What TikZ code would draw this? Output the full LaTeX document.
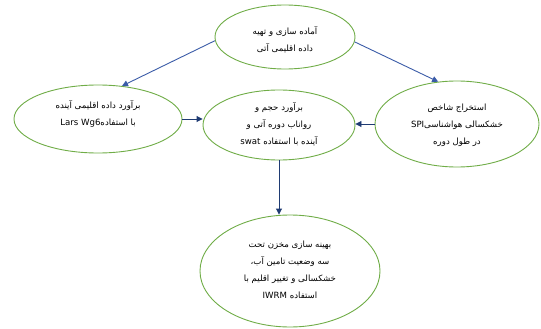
\documentclass[tikz,border=0pt]{standalone}
\usepackage{fontspec}
\newfontfamily\arabicfont[Script=Arabic]{DejaVu Sans}
\TeXXeTstate=1
\newcommand{\rl}[1]{\beginR #1\endR}
\usetikzlibrary{shapes.geometric,arrows.meta}
\definecolor{ellgreen}{HTML}{70AD47}
\definecolor{arrblue}{HTML}{3B5CA8}
\definecolor{arrnavy}{HTML}{1F3B73}
\begin{document}
\begin{tikzpicture}[x=1pt,y=-1pt,
 ell/.style={ellipse,draw=ellgreen,line width=0.9pt,inner sep=0pt,fill=white},
 lbl/.style={font=\arabicfont\fontsize{8.6}{17}\selectfont,align=center,text=black,inner sep=0pt},
 arrd/.style={draw=arrblue,line width=0.9pt,-{Triangle[length=6pt,width=6pt]}},
 arrs/.style={draw=arrnavy,line width=0.9pt,-{Triangle[length=6pt,width=6pt]}}]
\useasboundingbox (0,0) rectangle (541,329);
\fill[white] (0,0) rectangle (541,329);
\node[ell,minimum width=140pt,minimum height=64pt] (e1) at (285,37) {};
\node[ell,minimum width=168pt,minimum height=68pt] (e2) at (98,119) {};
\node[ell,minimum width=152pt,minimum height=70pt] (e3) at (279,125) {};
\node[ell,minimum width=164pt,minimum height=86pt] (e4) at (457,124) {};
\node[ell,minimum width=180pt,minimum height=112pt] (e5) at (290,271) {};
\node[lbl] (t1) at (285,40) {\rl{آماده سازی و تهیه}\\\rl{داده اقلیمی آتی}};
\node[lbl] (t2) at (98,114) {\rl{برآورد داده اقلیمی آینده}\\\rl{با استفاده\beginL Lars Wg6\endL}};
\node[lbl] (t3) at (279,124) {\rl{برآورد حجم و}\\\rl{رواناب دوره آتی و}\\\rl{آینده با استفاده \beginL swat\endL}};
\node[lbl] (t4) at (457,125) {\rl{استخراج شاخص}\\\rl{خشکسالی هواشناسی\beginL SPI\endL}\\\rl{در طول دوره}};
\node[lbl] (t5) at (290,270) {\rl{بهینه سازی مخزن تحت}\\\rl{سه وضعیت تامین آب،}\\\rl{خشکسالی و تغییر اقلیم با}\\\rl{استفاده \beginL IWRM\endL}};
\draw[arrd] (e1.183) -- (e2.54);
\draw[arrd] (e1.-4) -- (e4.114);
\draw[arrs] (e2.east) -- (e3.west |- e2.east);
\draw[arrs] (e4.west) -- (e3.east |- e4.west);
\draw[arrs] (e3.south) -- (e3.south |- e5.north);
\end{tikzpicture}
\end{document}
